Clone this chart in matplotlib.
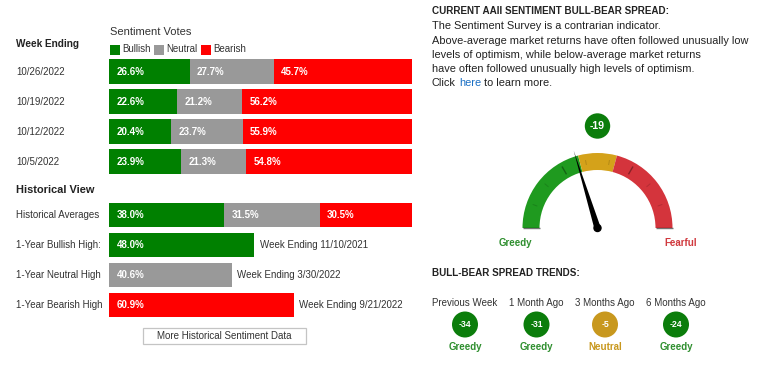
import numpy as np
import matplotlib
matplotlib.use("Agg")
import matplotlib.pyplot as plt
from matplotlib.patches import Rectangle, Circle, Wedge

plt.rcParams['font.family'] = ['Liberation Sans', 'DejaVu Sans']

# ---------------- data ----------------
weeks = ['10/26/2022', '10/19/2022', '10/12/2022', '10/5/2022']
bullish = [26.6, 22.6, 20.4, 23.9]
neutral = [27.7, 21.2, 23.7, 21.3]
bearish = [45.7, 56.2, 55.9, 54.8]
series_names = ['Bullish', 'Neutral', 'Bearish']

hist_labels = ['Historical Averages', '1-Year Bullish High:', '1-Year Neutral High', '1-Year Bearish High']
hist_avg = [38.0, 31.5, 30.5]
year_highs = [48.0, 40.6, 60.9]
year_high_weeks = ['11/10/2021', '3/30/2022', '9/21/2022']

spread_now = -19
gauge_range = [-100, 100]
gauge_zones = [-100, -16.7, 16.7, 100]

trend_labels = ['Previous Week', '1 Month Ago', '3 Months Ago', '6 Months Ago']
trend_values = [-34, -31, -5, -24]
trend_moods = ['Greedy', 'Greedy', 'Neutral', 'Greedy']

para_lines = ['The Sentiment Survey is a contrarian indicator.',
              'Above-average market returns have often followed unusually low',
              'levels of optimism, while below-average market returns',
              'have often followed unusually high levels of optimism.']

# ---------------- style ----------------
C_BULL, C_NEU, C_BEAR = '#008000', '#999999', '#ff0000'
SER_COLORS = [C_BULL, C_NEU, C_BEAR]
G_GREEN, G_GOLD, G_RED = '#1f9a1f', '#d4a21a', '#d4343c'
CIR_GREEN, CIR_GOLD = '#0b7d0b', '#c8981e'
TXT_GREEN, TXT_GOLD, TXT_RED = '#2f8f2f', '#c8981e', '#d0393e'
TXT = '#333333'

W, H = 768, 367
fig = plt.figure(figsize=(W / 100, H / 100), dpi=100)
fig.patch.set_facecolor('white')

# overlay axes in pixel units
ax = fig.add_axes([0, 0, 1, 1])
ax.set_xlim(0, W)
ax.set_ylim(H, 0)
ax.axis('off')

# bar axes: 0-100% spans pixel 109..412
BX0, BX1 = 109, 412
axb = fig.add_axes([BX0 / W, 0, (BX1 - BX0) / W, 1])
axb.set_xlim(0, 100)
axb.set_ylim(H, 0)
axb.axis('off')

BAR_H = 24.6
week_y = [71.7 + 30 * i for i in range(len(weeks))]
hist_y = [215 + 30 * i for i in range(len(hist_labels))]

# headings left
ax.text(16, 44, 'Week Ending', fontsize=7.2, fontweight='bold', color='#222', va='center')
ax.text(110, 32, 'Sentiment Votes', fontsize=8, color=TXT, va='center')
leg_x = [110, 154, 201]
for lx, name, col in zip(leg_x, series_names, SER_COLORS):
    ax.add_patch(Rectangle((lx, 45), 9.5, 9.5, color=col, lw=0))
    ax.text(lx + 12.5, 49.5, name, fontsize=7, color=TXT, va='center')

# weekly stacked bars
vals = np.array([bullish, neutral, bearish])
for i, y in enumerate(week_y):
    ax.text(16, y + 0.5, weeks[i], fontsize=7, color=TXT, va='center')
    left = 0
    for s in range(3):
        v = vals[s][i]
        axb.barh(y, v, left=left, height=BAR_H, color=SER_COLORS[s], lw=0)
        axb.annotate(f'{v:.1f}%', xy=(left, y), xytext=(5.4, 0), textcoords='offset points',
                     fontsize=7, fontweight='bold', color='white', va='center')
        left += v

ax.text(16, 190, 'Historical View', fontsize=7.9, fontweight='bold', color='#222', va='center')

# historical averages
y0 = hist_y[0]
ax.text(16, y0, hist_labels[0], fontsize=7, color=TXT, va='center')
left = 0
for s, v in enumerate(hist_avg):
    axb.barh(y0, v, left=left, height=BAR_H, color=SER_COLORS[s], lw=0)
    axb.annotate(f'{v:.1f}%', xy=(left, y0), xytext=(5.4, 0), textcoords='offset points',
                 fontsize=7, fontweight='bold', color='white', va='center')
    left += v

# one-year highs
for k, (v, wk) in enumerate(zip(year_highs, year_high_weeks)):
    y = hist_y[k + 1]
    ax.text(16, y, hist_labels[k + 1], fontsize=7, color=TXT, va='center')
    axb.barh(y, v, height=BAR_H, color=SER_COLORS[k], lw=0)
    axb.annotate(f'{v:.1f}%', xy=(0, y), xytext=(5.4, 0), textcoords='offset points',
                 fontsize=7, fontweight='bold', color='white', va='center')
    axb.annotate(f'Week Ending {wk}', xy=(v, y), xytext=(3.8, 0), textcoords='offset points',
                 fontsize=7, color=TXT, va='center')

# button
ax.add_patch(Rectangle((142.5, 327.5), 163.5, 16.5, facecolor='white', edgecolor='#c4c4c4', lw=0.9))
ax.text(224, 336, 'More Historical Sentiment Data', fontsize=7, color=TXT, ha='center', va='center')

# ---------------- right side ----------------
ax.text(432, 11, 'CURRENT AAII SENTIMENT BULL-BEAR SPREAD:', fontsize=7.1, fontweight='bold',
        color='#222', va='center')
py = [26, 40.5, 54.5, 68.5]
for t, y in zip(para_lines, py):
    ax.text(432, y, t, fontsize=7.9, color='#222', va='center')
t1 = ax.text(432, 82.5, 'Click', fontsize=7.9, color='#222', va='center')
t2 = ax.annotate('here', xy=(1, 0), xycoords=t1, xytext=(2.2, 0), textcoords='offset points',
                 fontsize=7.9, color='#1a6fc4', va='bottom')
ax.annotate('to learn more.', xy=(1, 0), xycoords=t2, xytext=(2.2, 0), textcoords='offset points',
            fontsize=7.9, color='#222', va='bottom')

# gauge
PX, PY = 597.5, 228
gx0, gx1, gy0, gy1 = 510, 690, 140, 238
axg = fig.add_axes([gx0 / W, (H - gy1) / H, (gx1 - gx0) / W, (gy1 - gy0) / H])
axg.set_xlim(gx0 - PX, gx1 - PX)
axg.set_ylim(PY - gy1, PY - gy0)
axg.set_aspect('equal')
axg.axis('off')

lo, hi = gauge_range
def ang(v):
    return 180.0 * (1 - (v - lo) / (hi - lo))

R_OUT, BAND = 75, 17
zone_cols = [G_GREEN, G_GOLD, G_RED]
for k in range(3):
    a1, a2 = ang(gauge_zones[k + 1]), ang(gauge_zones[k])
    axg.add_patch(Wedge((0, 0), R_OUT, a1, a2, width=BAND, color=zone_cols[k], lw=0))
for k in range(10):
    a = np.deg2rad(20 * k)
    if k in (0, 9):
        r1, r2, al, lw = R_OUT - BAND, R_OUT, 0.55, 1.0
    elif k in (3, 6):
        r1, r2, al, lw = R_OUT - 13, R_OUT - 4, 0.35, 1.0
    else:
        r1, r2, al, lw = R_OUT - 11, R_OUT - 6, 0.15, 0.7
    axg.plot([r1 * np.cos(a), r2 * np.cos(a)], [r1 * np.sin(a), r2 * np.sin(a)],
             color='black', alpha=al, lw=lw, solid_capstyle='butt')

a = np.deg2rad(ang(spread_now))
R_N, HW = 81, 3.2
tip = np.array([R_N * np.cos(a), R_N * np.sin(a)])
perp = np.array([-np.sin(a), np.cos(a)])
poly = np.array([tip, perp * HW, -perp * HW])
axg.fill(poly[:, 0], poly[:, 1], color='black', lw=0)
axg.add_patch(Circle((0, 0), 3.5, color='black'))

# current value bubble
ax.add_patch(Circle((597.5, 126), 12.7, color=CIR_GREEN, lw=0))
ax.text(597.5, 126, f'{spread_now}', fontsize=7.6, fontweight='bold', color='white',
        ha='center', va='center')
ax.text(515, 243, 'Greedy', fontsize=7, fontweight='bold', color=TXT_GREEN, ha='center', va='center')
ax.text(681, 243, 'Fearful', fontsize=7, fontweight='bold', color=TXT_RED, ha='center', va='center')

# trends
ax.text(432, 272.5, 'BULL-BEAR SPREAD TRENDS:', fontsize=7.1, fontweight='bold', color='#222', va='center')
tx = [465, 536.5, 605, 676]
for x, lab, v, mood in zip(tx, trend_labels, trend_values, trend_moods):
    cc = CIR_GOLD if mood == 'Neutral' else CIR_GREEN
    tc = TXT_GOLD if mood == 'Neutral' else TXT_GREEN
    ax.text(x, 302.5, lab, fontsize=7, color=TXT, ha='center', va='center')
    ax.add_patch(Circle((x, 324.5), 13, color=cc, lw=0))
    ax.text(x, 324.5, f'{v}', fontsize=6.2, fontweight='bold', color='white', ha='center', va='center')
    ax.text(x, 347.5, mood, fontsize=7, fontweight='bold', color=tc, ha='center', va='center')

fig.savefig('out.png', dpi=100, facecolor='white')
